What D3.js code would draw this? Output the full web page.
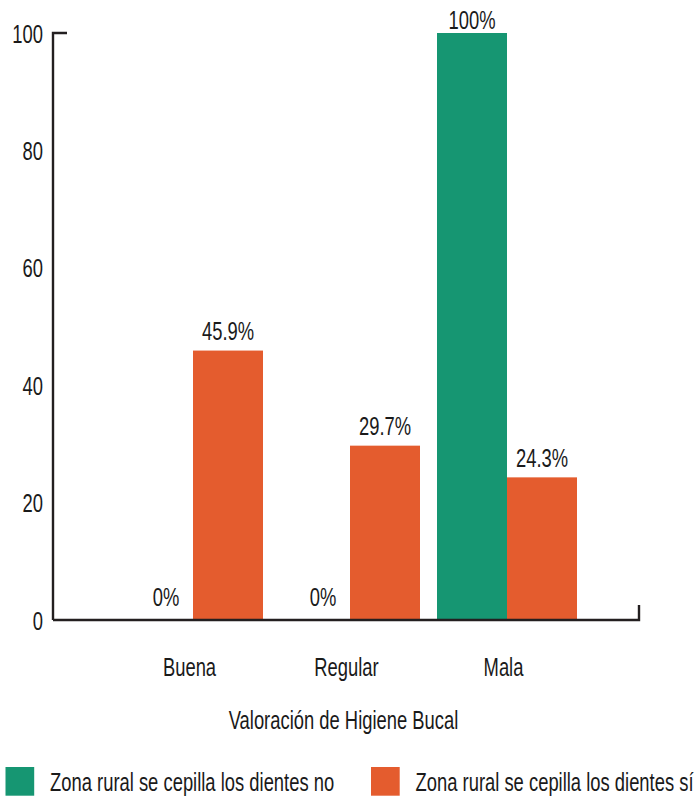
<!DOCTYPE html>
<html>
<head>
<meta charset="utf-8">
<script src="https://cdn.jsdelivr.net/npm/d3@7"></script>
<style>
body{margin:0;background:#fff;}
text{font-family:"Liberation Sans",Arial,sans-serif;fill:#1a1a1a;}
</style>
</head>
<body>
<svg id="chart" width="694" height="797"></svg>
<script>
const categories = ["Buena","Regular","Mala"];
const seriesNames = ["Zona rural se cepilla los dientes no","Zona rural se cepilla los dientes sí"];
const valuesNo = [0, 0, 100];
const valuesSi = [45.9, 29.7, 24.3];
const labelsNo = ["0%","0%","100%"];
const labelsSi = ["45.9%","29.7%","24.3%"];
const yTicks = [0,20,40,60,80,100];
const colors = ["#169672","#E45C2E"];
const xTitle = "Valoración de Higiene Bucal";

const svg = d3.select("#chart");
const fs = 25, sx = 0.736;

// condensed text helper
function ctext(sel, x, y, anchor){
  return sel.append("text")
    .attr("transform", `translate(${x},${y}) scale(${sx},1)`)
    .attr("text-anchor", anchor || "start")
    .attr("font-size", fs);
}

const y = d3.scaleLinear().domain([0,100]).range([620,33]);
const x = d3.scaleBand().domain(categories).range([114.5,585.5]).paddingInner(17/157).paddingOuter(17/314);
const sub = d3.scaleBand().domain([0,1]).range([0,x.bandwidth()]);

// bars
const data = categories.map((c,i)=>({c, vals:[valuesNo[i],valuesSi[i]], labs:[labelsNo[i],labelsSi[i]]}));
const g = svg.selectAll(".grp").data(data).enter().append("g").attr("transform",d=>`translate(${x(d.c)},0)`);
g.selectAll("rect").data(d=>d.vals.map((v,k)=>({v,k}))).enter().append("rect")
  .attr("x",d=>sub(d.k)).attr("width",sub.bandwidth())
  .attr("y",d=>y(d.v)).attr("height",d=>y(0)-y(d.v))
  .attr("fill",d=>colors[d.k]);
g.each(function(d){
  const gg = d3.select(this);
  d.vals.forEach((v,k)=>{
    const cx = sub(k)+sub.bandwidth()/2 + (v===0 ? 8 : 0);
    const by = v===0 ? y(0)-14 : Math.max(y(v)-10.5, 29.3);
    ctext(gg, cx, by, "middle").text(d.labs[k]);
  });
});

// axes lines
svg.append("path").attr("d", `M67,${y(100)}H53V${y(0)}`).attr("fill","none").attr("stroke","#231f20").attr("stroke-width",2.4);
svg.append("path").attr("d", `M53,${y(0)}H639V${y(0)-15}`).attr("fill","none").attr("stroke","#231f20").attr("stroke-width",2.4);

// y tick labels
yTicks.forEach(t=>{ ctext(svg, 43, y(t)+9.5, "end").text(t); });

// category labels
categories.forEach(c=>{ ctext(svg, x(c)+x.bandwidth()/2-3.5, 676, "middle").text(c); });

// axis title
ctext(svg, 343.5, 729, "middle").text(xTitle);

// legend
const legX = [5.5,371];
seriesNames.forEach((s,i)=>{
  svg.append("rect").attr("x",legX[i]).attr("y",767).attr("width",28.7).attr("height",28.7).attr("fill",colors[i]);
  ctext(svg, legX[i]+44.5, 790.5, "start").text(s);
});
</script>
</body>
</html>
